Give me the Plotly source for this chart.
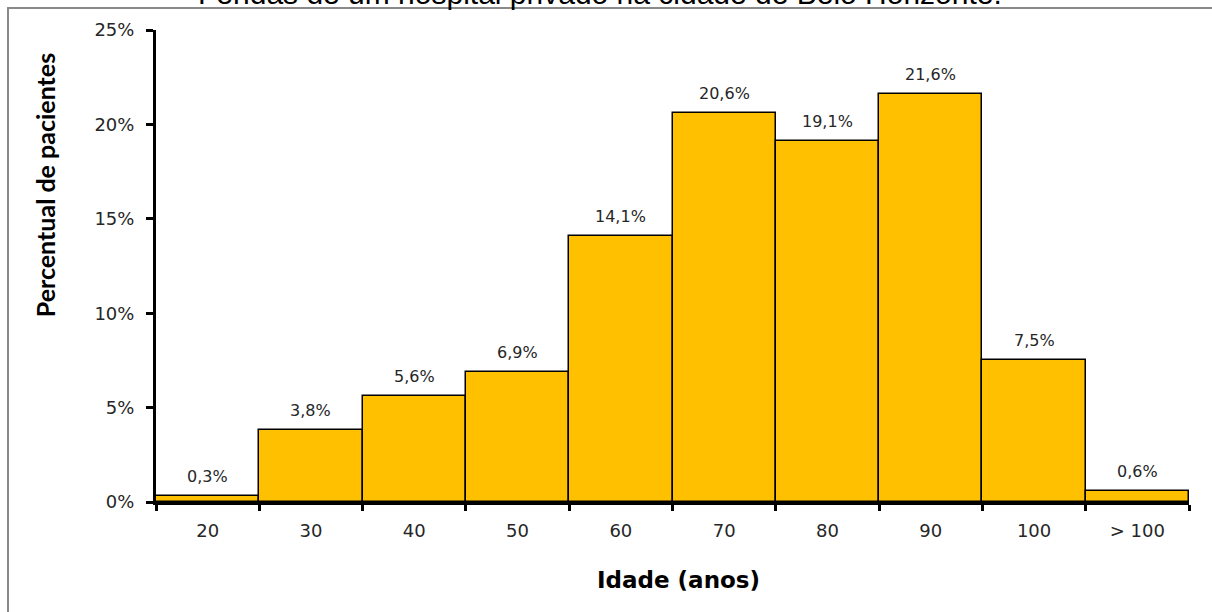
import plotly.graph_objects as go

# Age groups (years) and share of patients (%) in each group
faixas = ["20", "30", "40", "50", "60", "70", "80", "90", "100", "> 100"]
percentual = [0.3, 3.8, 5.6, 6.9, 14.1, 20.6, 19.1, 21.6, 7.5, 0.6]
y_ticks = [0, 5, 10, 15, 20, 25]

rotulos = [f"{v:.1f}".replace(".", ",") + "%" for v in percentual]

fig = go.Figure()
fig.add_trace(go.Bar(
    x=faixas,
    y=percentual,
    marker=dict(color="#FFC000", line=dict(color="#000000", width=1.5)),
    hoverinfo="x+y",
))

# Value labels above each bar (x given as category index)
for i, (val, txt) in enumerate(zip(percentual, rotulos)):
    fig.add_annotation(
        x=i, y=val, xref="x", yref="y",
        text=txt, showarrow=False,
        yanchor="bottom", yshift=8,
        font=dict(family="DejaVu Sans", size=16, color="#262626"),
    )

# Chart heading (partly above the visible area)
fig.add_annotation(
    x=0.43, y=1.039, xref="paper", yref="paper",
    text="Fendas de um hospital privado na cidade de Belo Horizonte.",
    showarrow=False, xanchor="center", yanchor="bottom",
    font=dict(family="Liberation Sans, Arial", size=30, color="#000000"),
)

# Y axis title
fig.add_annotation(
    x=-0.108, y=0.672, xref="paper", yref="paper",
    text="<b>Percentual de pacientes</b>", textangle=-90,
    showarrow=False, xanchor="center", yanchor="middle",
    font=dict(family="Lato", size=25, color="#000000"),
)

# X axis title
fig.add_annotation(
    x=0.506, y=-0.165, xref="paper", yref="paper",
    text="<b>Idade (anos)</b>",
    showarrow=False, xanchor="center", yanchor="middle",
    font=dict(family="DejaVu Sans", size=23, color="#000000"),
)

# Outer frame of the chart area
fig.add_shape(
    type="rect", xref="paper", yref="paper",
    x0=(8 - 156) / 1033, x1=1.2, y0=-0.5, y1=(502 - 8) / 472,
    line=dict(color="#8a8a8a", width=2), layer="below",
)

fig.update_layout(
    width=1212, height=612,
    margin=dict(l=156, r=23, t=30, b=110),
    paper_bgcolor="white", plot_bgcolor="white",
    bargap=0, showlegend=False,
    xaxis=dict(
        type="category",
        tickson="boundaries",
        ticks="outside", ticklen=6, tickwidth=3, tickcolor="#000000",
        showline=True, linecolor="#000000", linewidth=3,
        showgrid=False, zeroline=False,
        ticklabelstandoff=10,
        tickfont=dict(family="DejaVu Sans", size=18, color="#262626"),
        range=[-0.5, 9.5],
    ),
    yaxis=dict(
        range=[0, 25],
        tickmode="array",
        tickvals=y_ticks,
        ticktext=[f"{t}%" for t in y_ticks],
        ticks="outside", ticklen=7, tickwidth=3, tickcolor="#000000",
        showline=True, linecolor="#000000", linewidth=3,
        showgrid=False, zeroline=False,
        ticklabelstandoff=8,
        tickfont=dict(family="DejaVu Sans", size=18, color="#262626"),
    ),
)

fig.write_html("out.html")
